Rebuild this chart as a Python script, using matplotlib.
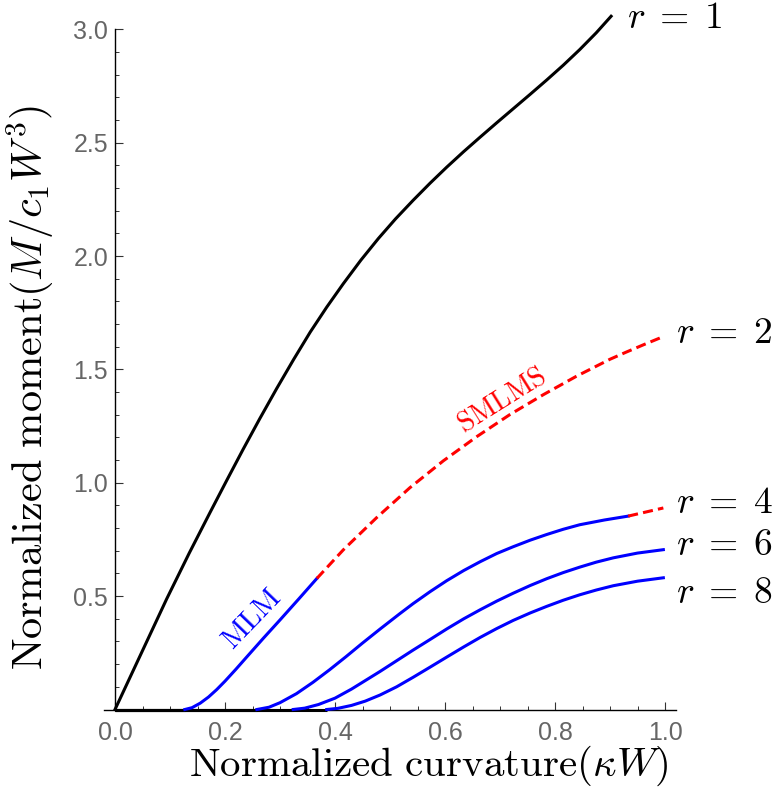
import matplotlib
matplotlib.use("Agg")
import matplotlib.pyplot as plt
from matplotlib.ticker import MultipleLocator, FormatStrFormatter, FixedLocator

plt.rcParams["mathtext.fontset"] = "cm"

# r = 1 (single-layer response)
x_r1 = [0.0, 0.047, 0.094, 0.135, 0.173, 0.203, 0.233, 0.263, 0.294, 0.325,
        0.355, 0.385, 0.415, 0.447, 0.479, 0.51, 0.542, 0.573, 0.603, 0.634,
        0.664, 0.694, 0.724, 0.755, 0.785, 0.815, 0.845, 0.875, 0.902]
y_r1 = [0.0, 0.244, 0.488, 0.69, 0.87, 1.01, 1.148, 1.282, 1.416, 1.545,
        1.665, 1.775, 1.878, 1.982, 2.078, 2.164, 2.246, 2.322, 2.392, 2.461,
        2.525, 2.588, 2.65, 2.714, 2.777, 2.842, 2.911, 2.985, 3.058]

# r = 2 : MLM branch (solid) then SMLMS branch (dashed)
x_r2_mlm = [0.127, 0.14, 0.155, 0.17, 0.185, 0.2, 0.22, 0.24, 0.27, 0.30,
            0.335, 0.367]
y_r2_mlm = [0.0, 0.008, 0.028, 0.055, 0.088, 0.125, 0.178, 0.233, 0.315,
            0.395, 0.49, 0.578]
x_r2_sm = [0.367, 0.415, 0.476, 0.536, 0.597, 0.658, 0.718, 0.779, 0.839,
           0.90, 0.93, 0.961, 0.997]
y_r2_sm = [0.578, 0.704, 0.847, 0.978, 1.097, 1.204, 1.301, 1.389, 1.47,
           1.545, 1.577, 1.609, 1.645]

# r = 4
x_r4_mlm = [0.258, 0.28, 0.30, 0.33, 0.36, 0.39, 0.42, 0.45, 0.482, 0.518,
            0.542, 0.573, 0.603, 0.634, 0.664, 0.694, 0.724, 0.755, 0.785,
            0.815, 0.845, 0.89, 0.933]
y_r4_mlm = [0.0, 0.01, 0.03, 0.07, 0.12, 0.175, 0.233, 0.293, 0.355, 0.423,
            0.467, 0.52, 0.568, 0.613, 0.652, 0.688, 0.718, 0.747, 0.772,
            0.795, 0.815, 0.836, 0.853]
x_r4_sm = [0.933, 0.965, 0.997]
y_r4_sm = [0.853, 0.871, 0.889]

# r = 6
x_r6 = [0.324, 0.345, 0.37, 0.40, 0.43, 0.46, 0.482, 0.512, 0.542, 0.573,
        0.603, 0.634, 0.664, 0.694, 0.724, 0.755, 0.785, 0.815, 0.845, 0.875,
        0.906, 0.95, 0.997]
y_r6 = [0.0, 0.006, 0.022, 0.05, 0.09, 0.135, 0.168, 0.215, 0.262, 0.309,
        0.355, 0.40, 0.44, 0.478, 0.513, 0.547, 0.577, 0.604, 0.628, 0.65,
        0.669, 0.69, 0.705]

# r = 8
x_r8 = [0.385, 0.405, 0.43, 0.455, 0.482, 0.512, 0.542, 0.573, 0.603, 0.634,
        0.664, 0.694, 0.724, 0.755, 0.785, 0.815, 0.845, 0.875, 0.906, 0.95,
        0.997]
y_r8 = [0.0, 0.005, 0.018, 0.037, 0.064, 0.1, 0.142, 0.187, 0.231, 0.276,
        0.318, 0.357, 0.393, 0.426, 0.455, 0.482, 0.506, 0.527, 0.546, 0.566,
        0.581]

r_values = [1, 2, 4, 6, 8]
label_y = [3.05, 1.66, 0.91, 0.727, 0.515]
label_x = [0.931, 1.02, 1.02, 1.02, 1.02]

x_ticks = [0.0, 0.2, 0.4, 0.6, 0.8, 1.0]
y_ticks = [0.5, 1.0, 1.5, 2.0, 2.5, 3.0]

BLUE = "#0000ff"
RED = "#ff0000"
LW = 2.2
DASH = (0, (3.3, 1.7))

fig = plt.figure(figsize=(7.78, 7.99), dpi=100)
ax = fig.add_axes([104 / 778, (799 - 709.5) / 799, 572 / 778, 3.07 * 226.7 / 799])
ax.set_xlim(-0.02, 1.02)
ax.set_ylim(0, 3.07)

# curves
ax.plot(x_r1, y_r1, color="black", lw=LW, clip_on=False, zorder=4)
for x0 in [x_r2_mlm[0], x_r4_mlm[0], x_r6[0], x_r8[0]]:
    ax.plot([0, x0], [0, 0], color="black", lw=LW, clip_on=False, zorder=3,
            solid_capstyle="butt")
ax.plot(x_r2_mlm, y_r2_mlm, color=BLUE, lw=LW, clip_on=False, zorder=3)
ax.plot(x_r2_sm, y_r2_sm, color=RED, lw=LW, ls=DASH, clip_on=False, zorder=3)
ax.plot(x_r4_mlm, y_r4_mlm, color=BLUE, lw=LW, clip_on=False, zorder=3)
ax.plot(x_r4_sm, y_r4_sm, color=RED, lw=LW, ls=DASH, clip_on=False, zorder=3)
ax.plot(x_r6, y_r6, color=BLUE, lw=LW, clip_on=False, zorder=3)
ax.plot(x_r8, y_r8, color=BLUE, lw=LW, clip_on=False, zorder=3)

# curve labels
for r, lx, ly in zip(r_values, label_x, label_y):
    ax.text(lx, ly, rf"$r\;=\;{r}$", fontsize=27, ha="left", va="center",
            clip_on=False)

ax.text(0.249, 0.40, r"$\mathrm{MLM}$", color=BLUE, fontsize=21, rotation=46,
        ha="center", va="center")
ax.text(0.703, 1.366, r"$\mathrm{SMLMS}$", color=RED, fontsize=20, rotation=32,
        ha="center", va="center")

# axes through the origin
for s in ["top", "right"]:
    ax.spines[s].set_visible(False)
ax.spines["left"].set_position(("data", 0))
ax.spines["bottom"].set_position(("data", 0))
ax.spines["left"].set_bounds(0, 3.0)
ax.spines["bottom"].set_bounds(-0.02, 1.02)
for s in ["left", "bottom"]:
    ax.spines[s].set_linewidth(1.0)

ax.xaxis.set_major_locator(FixedLocator(x_ticks))
ax.xaxis.set_minor_locator(MultipleLocator(0.05))
ax.yaxis.set_major_locator(FixedLocator(y_ticks))
ax.yaxis.set_minor_locator(FixedLocator([v / 10 for v in range(1, 31) if v % 5]))
ax.xaxis.set_major_formatter(FormatStrFormatter("%.1f"))
ax.yaxis.set_major_formatter(FormatStrFormatter("%.1f"))

ax.tick_params(which="major", direction="in", length=5.5, width=0.8,
               labelsize=18, labelcolor="#666666", color="#333333")
ax.tick_params(which="minor", direction="in", length=3.2, width=0.7, color="#333333")
ax.tick_params(axis="x", which="major", pad=8)
ax.tick_params(axis="y", which="major", pad=5)
for lab in ax.get_xticklabels() + ax.get_yticklabels():
    lab.set_fontfamily("Liberation Sans")

fig.text(429 / 778, 1 - 766 / 799, r"$\mathrm{Normalized\ curvature}(\kappa W)$",
         fontsize=29.5, ha="center", va="center")
fig.text(30 / 778, 1 - 388 / 799, r"$\mathrm{Normalized\ moment}(M/c_1W^3)$",
         fontsize=30.5, ha="center", va="center", rotation=90)

fig.savefig("out.png", dpi=100)
